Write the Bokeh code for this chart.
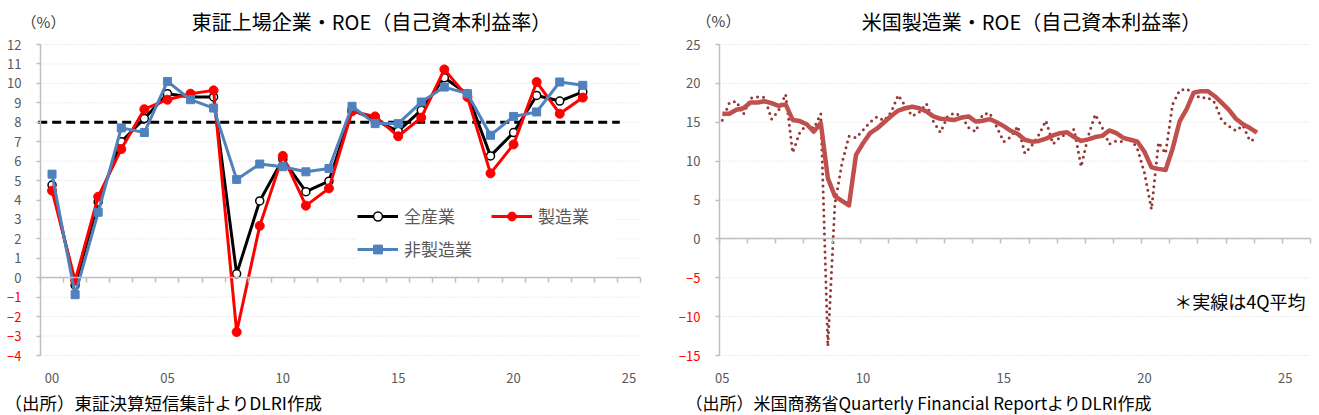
from bokeh.plotting import figure
from bokeh.models import Range1d, LinearAxis, FixedTicker, Label, Legend, LegendItem, ColumnDataSource
from bokeh.layouts import row
from bokeh.embed import file_html
from bokeh.resources import INLINE

FONT = "Noto Sans CJK JP"
TXT = "#595959"
AXC = "#BFBFBF"
GRIDC = "#D9D9D9"
NEG = "#FF0000"
H = 415

# ---------------- left chart data: 東証上場企業 ROE (%) ----------------
JP_YEARS = ["00", "01", "02", "03", "04", "05", "06", "07", "08", "09", "10", "11",
            "12", "13", "14", "15", "16", "17", "18", "19", "20", "21", "22", "23"]
JP_AXIS_LAST = "25"
JP_TICK_LABELS = ["00", "05", "10", "15", "20", "25"]
ROE_ALL = [4.77, -0.39, 3.9, 7.0, 8.19, 9.47, 9.3, 9.3, 0.2, 3.95, 6.1, 4.43,
           4.97, 8.65, 8.1, 7.54, 8.62, 10.29, 9.45, 6.27, 7.47, 9.38, 9.09, 9.56]
ROE_MFG = [4.48, -0.15, 4.17, 6.62, 8.67, 9.16, 9.47, 9.64, -2.79, 2.67, 6.27, 3.71,
           4.6, 8.56, 8.3, 7.28, 8.24, 10.72, 9.3, 5.37, 6.86, 10.07, 8.44, 9.27]
ROE_NONMFG = [5.33, -0.87, 3.37, 7.71, 7.47, 10.1, 9.16, 8.73, 5.06, 5.85, 5.71, 5.45,
              5.62, 8.82, 7.93, 7.93, 9.04, 9.81, 9.47, 7.33, 8.3, 8.53, 10.07, 9.9]
ROE_TARGET = 8
JP_Y_TICKS = list(range(-4, 13))

# ---------------- right chart data: 米国製造業 ROE (%) ----------------
US_QUARTERS = [f"{y}Q{q}" for y in range(2005, 2025) for q in range(1, 5)][:77]
US_ROE_Q = [15.25, 17.5, 17.7, 16.0, 18.1, 18.25, 18.2, 15.4, 16.5, 18.6, 11.1, 13.65,
            14.7, 14.2, 16.1, -13.8, 4.5, 9.7, 13.2, 13.0, 14.0, 15.0, 15.7, 15.2,
            16.3, 18.5, 17.1, 15.8, 16.3, 17.4, 15.1, 13.7, 15.75, 16.2, 15.8, 14.3,
            13.8, 16.0, 16.2, 14.4, 12.5, 13.1, 14.5, 11.0, 12.0, 13.4, 15.2, 12.2,
            13.1, 13.5, 14.1, 9.3, 13.2, 16.0, 14.3, 12.2, 12.6, 12.5, 13.0, 11.6,
            8.5, 3.8, 12.4, 11.0, 17.3, 19.1, 19.3, 18.6, 18.1, 18.2, 17.5, 15.2,
            14.5, 13.9, 14.6, 12.6, 12.9]
US_ROE_4Q = [16.1, 16.1, 16.6, 16.8, 17.55, 17.55, 17.7, 17.45, 17.1, 17.3, 15.3, 15.15,
             14.75, 13.8, 14.9, 7.8, 5.5, 4.9, 4.3, 10.8, 12.3, 13.6, 14.2, 15.0,
             15.8, 16.5, 16.8, 17.0, 16.8, 16.4, 15.75, 15.45, 15.4, 15.3, 15.6, 15.75,
             15.1, 15.2, 15.4, 15.0, 14.5, 13.9, 13.5, 12.75, 12.5, 12.6, 12.9, 13.3,
             13.6, 13.7, 13.1, 12.6, 12.8, 13.1, 13.25, 13.95, 13.6, 13.0, 12.75, 12.5,
             11.2, 9.2, 9.0, 8.85, 11.6, 15.1, 16.7, 18.8, 19.0, 19.0, 18.35, 17.5,
             16.6, 15.45, 14.75, 14.25, 13.65]
US_TICK_LABELS = ["05", "10", "15", "20", "25"]
US_Y_TICKS = list(range(-15, 30, 5))


def make_fig(width, x0, x1, y0, y1, left, right, top=44, bottom=60):
    """Frame covers the whole canvas; ranges are widened so that the data box
    [x0,x1]x[y0,y1] sits at the given pixel margins."""
    kx = (width - left - right) / (x1 - x0)
    ky = (H - top - bottom) / (y1 - y0)
    p = figure(width=width, height=H, output_backend="svg", toolbar_location=None,
               x_range=Range1d(x0 - left / kx, x1 + right / kx),
               y_range=Range1d(y0 - bottom / ky, y1 + top / ky),
               x_axis_type=None, y_axis_type=None, min_border=0,
               min_border_left=0, min_border_right=0, min_border_top=0, min_border_bottom=0)
    p.outline_line_color = None
    p.background_fill_color = "white"
    p.border_fill_color = "white"
    return p


def style_labels(ax, color=TXT):
    ax.major_label_text_font = FONT
    ax.major_label_text_font_size = "13px"
    ax.major_label_text_color = color


def add_axes(p, y_ticks, x0, x1, x_label_ticks, x_label_map, x_zero_ticks, x_label_shift=0):
    y0, y1 = y_ticks[0], y_ticks[-1]
    # dotted horizontal grid lines inside the data box
    p.segment(x0=[x0] * len(y_ticks), x1=[x1] * len(y_ticks), y0=y_ticks, y1=y_ticks,
              line_color=GRIDC, line_width=1, line_dash="1 2")
    pos = [t for t in y_ticks if t >= 0]
    neg = [t for t in y_ticks if t < 0]
    ya = LinearAxis(fixed_location=x0, bounds=(y0, y1), ticker=FixedTicker(ticks=pos),
                    axis_line_color=AXC, axis_line_width=1.5,
                    major_tick_line_color=AXC, major_tick_line_width=1.5, major_tick_out=4,
                    major_tick_in=0, minor_tick_line_color=None, major_label_standoff=15)
    style_labels(ya)
    p.add_layout(ya, "left")
    yb = LinearAxis(fixed_location=x0, bounds=(y0, y1), ticker=FixedTicker(ticks=neg),
                    axis_line_color=None,
                    major_tick_line_color=AXC, major_tick_line_width=1.5, major_tick_out=4,
                    major_tick_in=0, minor_tick_line_color=None, major_label_standoff=15)
    style_labels(yb, NEG)
    p.add_layout(yb, "left")
    xl = LinearAxis(fixed_location=y0,
                    ticker=FixedTicker(ticks=[t + x_label_shift for t in x_label_ticks]),
                    major_label_overrides={t + x_label_shift: s for t, s in x_label_map.items()},
                    axis_line_color=None, major_tick_line_color=None, major_tick_out=0,
                    major_tick_in=0, minor_tick_line_color=None, major_label_standoff=17)
    style_labels(xl)
    p.add_layout(xl, "below")
    xz = LinearAxis(fixed_location=0, bounds=(x0, x1), ticker=FixedTicker(ticks=x_zero_ticks),
                    axis_line_color=AXC, axis_line_width=1.5, major_tick_line_color=AXC,
                    major_tick_line_width=1.5, major_tick_out=5, major_tick_in=0,
                    minor_tick_line_color=None, major_label_text_color=None)
    p.add_layout(xz, "below")


def add_text(p, text, cx, cy, size, color="black", align="center"):
    # cx, cy: canvas pixel position (y measured from the top)
    p.add_layout(Label(x=cx, y=H - cy, x_units="screen", y_units="screen", text=text,
                       text_font=FONT, text_font_size=size, text_color=color,
                       text_align=align, text_baseline="middle"))


# ---------------- left figure ----------------
n_cat = int(JP_AXIS_LAST) + 1
jx0, jx1 = -0.5, n_cat - 0.5
p1 = make_fig(660, jx0, jx1, JP_Y_TICKS[0], JP_Y_TICKS[-1], left=40, right=20)
x_jp = [int(y) for y in JP_YEARS]
tick_pos = [int(s) for s in JP_TICK_LABELS]
add_axes(p1, JP_Y_TICKS, jx0, jx1, tick_pos, {t: s for t, s in zip(tick_pos, JP_TICK_LABELS)},
         [k + 0.5 for k in range(-1, n_cat)])

src = ColumnDataSource(dict(x=x_jp, all=ROE_ALL, mfg=ROE_MFG, non=ROE_NONMFG))
p1.line([x_jp[0] - 0.6, x_jp[-1] + 1.6], [ROE_TARGET, ROE_TARGET], line_color="black",
        line_width=3, line_dash="9 5")
l_all = p1.line("x", "all", source=src, line_color="black", line_width=3, line_join="round")
m_all = p1.scatter("x", "all", source=src, marker="circle", size=8, fill_color="white",
                   line_color="black", line_width=1.5)
l_mfg = p1.line("x", "mfg", source=src, line_color="#FF0000", line_width=3, line_join="round")
m_mfg = p1.scatter("x", "mfg", source=src, marker="circle", size=9, fill_color="#FF0000",
                   line_color="#FF0000")
l_non = p1.line("x", "non", source=src, line_color="#4F81BD", line_width=3, line_join="round")
m_non = p1.scatter("x", "non", source=src, marker="square", size=8, fill_color="#4F81BD",
                   line_color="#4F81BD")

legend = Legend(items=[LegendItem(label="全産業", renderers=[l_all, m_all]),
                       LegendItem(label="製造業", renderers=[l_mfg, m_mfg]),
                       LegendItem(label="非製造業", renderers=[l_non, m_non])],
                location=(357, 154), orientation="horizontal", ncols=2,
                label_text_font=FONT, label_text_font_size="17px", label_text_color=TXT,
                glyph_width=41, glyph_height=22, label_height=22, label_width=79,
                label_standoff=6, spacing=8, padding=4, margin=0,
                border_line_color=None, background_fill_color="white", background_fill_alpha=1)
p1.add_layout(legend)

add_text(p1, "東証上場企業・ROE（自己資本利益率）", 371, 21, "20px")
add_text(p1, "（%）", 43, 21, "15px", color="#404040")
add_text(p1, "（出所）東証決算短信集計よりDLRI作成", 4, 402, "17.5px", align="left")

# ---------------- right figure ----------------
x_us = []
for qs in US_QUARTERS:
    yr, q = qs.split("Q")
    x_us.append(int(yr) + (int(q) - 1) / 4 + 0.1)
us_tick_pos = [2000 + int(s) for s in US_TICK_LABELS]
ux0, ux1 = us_tick_pos[0], us_tick_pos[-1] + 1
p2 = make_fig(659, ux0, ux1, US_Y_TICKS[0], US_Y_TICKS[-1], left=59, right=9)
add_axes(p2, US_Y_TICKS, ux0, ux1, us_tick_pos,
         {t: s for t, s in zip(us_tick_pos, US_TICK_LABELS)},
         list(range(ux0, ux1 + 1)), x_label_shift=0.1)

src2 = ColumnDataSource(dict(x=x_us, q=US_ROE_Q, avg=US_ROE_4Q))
p2.line("x", "q", source=src2, line_color="#953735", line_width=3, line_dash="0 6",
        line_cap="round", line_join="round")
p2.line("x", "avg", source=src2, line_color="#C0504D", line_width=4.5, line_join="round")

add_text(p2, "米国製造業・ROE（自己資本利益率）", 371, 21, "20px")
add_text(p2, "（%）", 58, 20, "15px", color="#404040")
add_text(p2, "（出所）米国商務省Quarterly Financial ReportよりDLRI作成", 25, 402, "17px",
         align="left")
add_text(p2, "＊実線は4Q平均", 645, 300, "18px", align="right")

layout = row(p1, p2)
open("out.html", "w").write(file_html(layout, INLINE))
